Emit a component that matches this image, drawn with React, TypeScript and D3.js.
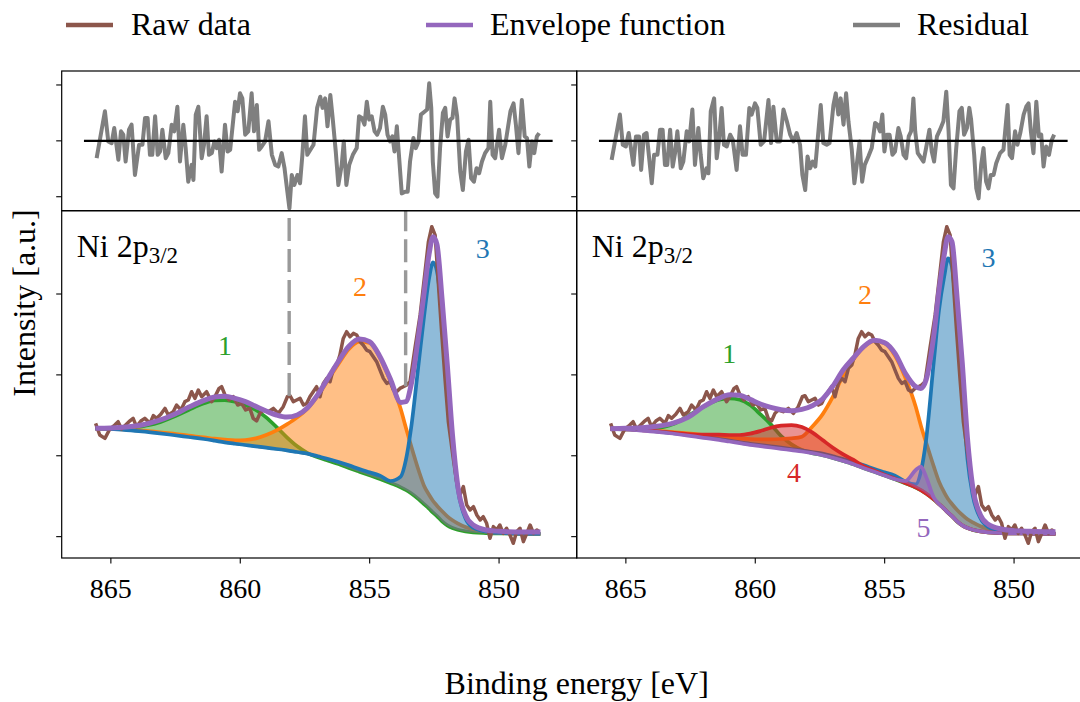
import React from "react";
import * as d3 from "d3";

// ---------- data (binding energy in eV, intensity in a.u.) ----------
const energies = [865.6, 865.0, 864.4, 863.8, 863.2, 862.6, 862.0, 861.4, 861.0, 860.6, 860.2, 859.8, 859.4, 859.0, 858.6, 858.2, 857.8, 857.4, 857.0, 856.6, 856.2, 855.8, 855.4, 855.0, 854.6, 854.2, 853.8, 853.6, 853.4, 853.1, 852.9, 852.7, 852.55, 852.4, 852.2, 852.0, 851.8, 851.6, 851.3, 851.0, 850.5, 850.0, 849.4, 848.8, 848.4];

const background = [133.1, 132.3, 131.0, 129.4, 127.3, 124.8, 122.0, 119.5, 117.4, 115.4, 113.3, 111.7, 110.0, 108.4, 106.7, 105.1, 103.0, 100.5, 97.2, 93.5, 89.4, 84.5, 79.9, 75.4, 70.9, 65.9, 60.6, 57.3, 53.1, 45.7, 40.0, 34.2, 29.3, 25.1, 18.5, 13.6, 10.3, 8.2, 6.2, 4.9, 4.1, 3.7, 3.7, 3.3, 3.3];

// left fit (3 components)
const leftPeak1 = [133.5, 133.1, 134.3, 136.4, 140.5, 147.9, 156.6, 164.8, 168.5, 168.9, 166.9, 162.7, 156.6, 147.5, 135.5, 122.8, 111.7, 103.4, 98.1, 93.9, 89.8, 84.9, 80.3, 75.8, 71.3, 66.3, 61.0, 57.7, 53.6, 46.0, 40.3, 34.5, 29.6, 25.4, 18.8, 13.9, 10.6, 8.5, 6.5, 5.2, 4.4, 4.0, 4.0, 3.6, 3.6];
const leftPeak2 = [133.5, 133.1, 132.3, 131.0, 129.4, 127.3, 124.8, 122.8, 121.1, 119.9, 119.1, 119.5, 121.5, 125.7, 131.4, 138.8, 147.5, 158.6, 174.3, 194.1, 213.8, 232.0, 241.0, 239.4, 221.2, 192.4, 157.8, 134.7, 112.5, 81.2, 63.0, 51.5, 44.1, 38.3, 31.3, 25.1, 20.2, 16.5, 11.9, 9.1, 6.2, 4.5, 3.7, 3.3, 3.3];
const leftPeak3 = [133.9, 133.1, 131.8, 130.2, 128.1, 125.7, 123.2, 120.7, 118.7, 116.6, 114.9, 113.3, 111.7, 110.0, 108.4, 106.7, 104.6, 102.6, 99.3, 96.0, 92.3, 88.2, 83.6, 79.5, 75.4, 68.8, 74.2, 94.8, 133.9, 216.3, 271.9, 320.1, 339.1, 328.4, 271.9, 197.8, 115.4, 59.7, 22.7, 11.1, 6.2, 4.5, 3.7, 3.3, 3.3];
const leftEnvelope = [133.9, 134.3, 135.5, 138.0, 143.0, 150.4, 159.9, 168.5, 172.6, 173.5, 171.0, 166.9, 161.1, 155.3, 150.4, 147.9, 150.4, 159.4, 175.9, 196.5, 217.1, 235.3, 244.3, 241.0, 222.5, 194.9, 166.0, 166.9, 187.5, 251.3, 300.8, 350.2, 370.8, 361.3, 292.5, 212.2, 125.7, 63.9, 26.8, 14.4, 8.2, 6.6, 5.8, 5.8, 5.8];

// right fit (5 components)
const rightPeak1 = [133.1, 132.7, 132.3, 133.9, 138.8, 149.1, 160.7, 169.3, 171.0, 169.3, 162.7, 151.2, 138.8, 124.4, 114.1, 107.1, 103.3, 100.7, 97.4, 93.7, 89.6, 84.7, 80.1, 75.6, 71.1, 66.1, 60.8, 57.5, 53.3, 45.9, 40.2, 34.4, 29.5, 25.3, 18.7, 13.8, 10.5, 8.4, 6.4, 5.1, 4.3, 3.9, 3.9, 3.5, 3.5];
const rightPeak2 = [133.5, 133.1, 132.3, 131.0, 129.4, 127.7, 125.7, 124.0, 122.8, 121.5, 120.7, 120.3, 120.3, 120.7, 121.5, 123.6, 136.0, 151.2, 173.0, 199.8, 219.6, 234.8, 241.8, 239.0, 223.7, 196.5, 160.7, 137.2, 116.6, 86.5, 68.0, 54.8, 46.6, 40.4, 33.0, 26.8, 21.4, 17.7, 12.8, 9.5, 6.6, 4.9, 4.1, 3.7, 3.7];
const rightPeak3 = [133.9, 133.1, 131.8, 130.2, 128.1, 125.7, 123.2, 120.7, 118.7, 116.6, 114.9, 113.3, 111.7, 110.0, 108.4, 106.7, 104.6, 102.6, 99.3, 96.0, 92.3, 88.2, 83.6, 79.5, 75.4, 68.0, 64.7, 80.3, 119.5, 217.1, 280.2, 321.4, 344.0, 333.7, 261.6, 179.2, 96.0, 51.5, 22.7, 11.9, 6.6, 4.9, 4.1, 3.7, 3.7];
const rightPeak4 = [133.5, 132.7, 131.8, 130.2, 128.5, 126.9, 126.1, 126.1, 125.7, 125.7, 127.3, 130.6, 134.7, 137.2, 138.0, 135.5, 129.0, 119.5, 110.0, 101.8, 94.8, 86.9, 81.6, 76.2, 71.7, 66.3, 61.0, 57.6, 53.4, 46.0, 40.3, 34.5, 29.6, 25.4, 18.8, 13.9, 10.6, 8.5, 6.5, 5.2, 4.4, 4.0, 4.0, 3.6, 3.6];
const rightPeak5 = [133.3, 132.5, 131.2, 129.6, 127.5, 125.0, 122.2, 119.7, 117.6, 115.6, 113.5, 111.9, 110.2, 108.6, 106.9, 105.3, 103.2, 100.7, 97.4, 93.7, 89.6, 84.7, 80.1, 75.6, 71.1, 68.8, 82.4, 86.5, 74.2, 48.2, 40.3, 34.5, 29.6, 25.4, 18.8, 13.9, 10.6, 8.5, 6.5, 5.2, 4.4, 4.0, 4.0, 3.6, 3.6];
const rightEnvelope = [133.5, 133.9, 134.7, 136.4, 140.1, 147.5, 160.7, 171.0, 175.5, 174.7, 169.7, 164.0, 159.9, 157.0, 155.7, 157.4, 161.9, 170.2, 186.2, 206.4, 221.2, 235.3, 242.7, 239.8, 226.6, 201.9, 185.4, 183.3, 193.6, 249.3, 304.9, 348.1, 370.8, 364.6, 294.6, 214.2, 121.5, 61.8, 26.8, 15.2, 9.5, 7.4, 6.6, 6.2, 6.2];

// raw spectrum [energy, intensity]
const rawData: [number, number][] = [
  [865.59, 140.1], [865.43, 125.7], [865.23, 121.5], [865.04, 133.1], [864.85, 138.0], [864.72, 142.1], [864.59, 133.1], [864.43, 138.0], [864.30, 142.1], [864.14, 146.3],
  [864.01, 136.0], [863.84, 143.0], [863.69, 146.3], [863.49, 140.1], [863.36, 149.6], [863.23, 146.3], [863.07, 151.2], [862.91, 158.6], [862.78, 150.4], [862.59, 154.5],
  [862.46, 162.7], [862.29, 156.6], [862.14, 166.9], [862.01, 168.9], [861.88, 179.2], [861.75, 171.0], [861.62, 181.3], [861.49, 173.0], [861.30, 179.2], [861.11, 166.9],
  [860.98, 173.0], [860.82, 183.3], [860.72, 185.4], [860.59, 175.1], [860.44, 168.9], [860.27, 173.0], [860.10, 162.7], [859.95, 164.8], [859.79, 156.6], [859.63, 158.6],
  [859.50, 146.3], [859.37, 143.0], [859.24, 152.4], [859.11, 156.6], [858.92, 154.5], [858.72, 158.6], [858.53, 152.4], [858.34, 160.7], [858.18, 173.0], [858.08, 174.3],
  [857.95, 166.9], [857.82, 168.9], [857.69, 171.0], [857.56, 162.7], [857.43, 164.8], [857.31, 173.0], [857.18, 179.2], [857.05, 185.4], [856.92, 173.0], [856.79, 189.5],
  [856.66, 195.7], [856.53, 191.6], [856.40, 208.1], [856.27, 212.2], [856.15, 224.5], [856.02, 245.1], [855.89, 253.4], [855.76, 247.2], [855.63, 251.3], [855.50, 249.3],
  [855.37, 241.0], [855.25, 236.9], [855.12, 230.7], [854.99, 228.7], [854.86, 222.5], [854.73, 216.3], [854.60, 206.0], [854.47, 195.7], [854.34, 189.5], [854.21, 191.6],
  [854.08, 181.3], [853.96, 179.2], [853.83, 183.3], [853.70, 185.4], [853.57, 187.5], [853.44, 191.6], [853.25, 232.8], [853.05, 274.0], [852.86, 327.5], [852.73, 364.6],
  [852.60, 383.2], [852.47, 372.9], [852.35, 315.2], [852.22, 253.4], [852.09, 195.7], [851.96, 142.1], [851.77, 96.8], [851.64, 68.0], [851.51, 51.5], [851.38, 61.8],
  [851.25, 39.1], [851.12, 33.0], [850.99, 37.1], [850.86, 26.8], [850.73, 20.6], [850.61, 24.7], [850.48, 16.5], [850.35, -2.1], [850.22, 12.4], [850.09, 8.2],
  [849.97, 14.4], [849.84, 4.1], [849.71, 10.3], [849.58, 2.1], [849.45, -8.2], [849.32, 6.2], [849.19, 10.3], [849.06, -6.2], [848.93, 4.1], [848.80, 14.4],
  [848.67, 4.1], [848.54, 8.2], [848.45, 6.2],
];

// residuals [energy, residual]
const leftResidual: [number, number][] = [
  [865.55, -31], [865.23, 53], [865.10, -1], [864.97, -4], [864.87, 23], [864.71, -34], [864.61, 17], [864.52, 11], [864.43, -37], [864.30, 20],
  [864.20, 29], [864.07, -61], [863.91, -7], [863.78, -7], [863.68, 41], [863.58, 41], [863.49, -25], [863.40, -25], [863.29, 44], [863.19, -25],
  [863.10, -19], [863.01, 20], [862.88, -31], [862.78, -22], [862.65, 29], [862.55, 17], [862.43, 61], [862.33, -37], [862.20, 29], [862.11, -13],
  [862.01, -73], [861.88, -43], [861.81, -70], [861.72, 47], [861.62, 61], [861.49, -31], [861.40, -7], [861.30, 44], [861.21, -25], [861.10, -22],
  [861.00, -1], [860.91, -13], [860.82, 2], [860.72, -55], [860.59, 29], [860.49, -19], [860.39, -16], [860.20, 70], [860.10, 53], [860.01, 85],
  [859.92, 76], [859.81, 11], [859.69, 17], [859.56, 85], [859.47, 17], [859.36, 64], [859.27, -16], [859.17, -10], [859.04, -1], [858.91, 35],
  [858.78, -25], [858.65, -43], [858.53, -46], [858.40, -22], [858.29, -49], [858.18, -91], [858.10, -121], [858.01, -61], [857.91, -79], [857.79, -61],
  [857.69, -76], [857.60, -25], [857.50, 44], [857.41, -25], [857.29, -16], [857.17, -7], [857.03, 59], [856.91, 79], [856.82, 59], [856.72, 76],
  [856.63, 26], [856.52, 82], [856.43, 41], [856.31, -19], [856.21, -79], [856.08, -43], [856.00, -1], [855.90, -79], [855.79, -43], [855.65, -25],
  [855.50, -13], [855.41, 44], [855.30, 41], [855.20, 29], [855.11, 70], [855.02, 38], [854.92, 44], [854.81, 17], [854.71, 11], [854.60, 23],
  [854.49, 61], [854.40, 47], [854.31, 11], [854.21, -1], [854.12, 8], [854.04, -19], [853.95, 26], [853.86, -31], [853.76, -94], [853.63, -91],
  [853.53, -91], [853.44, -37], [853.31, 5], [853.22, -13], [853.11, -1], [853.02, 47], [852.86, 53], [852.78, 56], [852.70, 103], [852.62, 59],
  [852.56, -37], [852.47, -94], [852.38, -100], [852.28, -13], [852.17, 50], [852.08, 59], [851.99, 8], [851.89, 38], [851.80, 41], [851.72, 76],
  [851.62, 44], [851.50, -55], [851.40, -88], [851.28, -19], [851.18, 2], [851.08, -67], [850.97, -73], [850.87, -49], [850.77, -58], [850.66, -37],
  [850.54, -22], [850.41, -13], [850.34, 70], [850.25, -25], [850.15, -31], [850.00, 20], [849.89, -31], [849.76, -7], [849.66, 23], [849.56, 53],
  [849.44, 67], [849.35, 29], [849.25, -22], [849.12, 73], [849.01, 8], [848.92, 5], [848.83, -46], [848.73, -1], [848.64, -22], [848.54, 8],
  [848.45, 14],
];
const rightResidual: [number, number][] = [
  [865.55, -34], [865.23, 47], [865.12, -7], [865.00, -10], [864.89, 14], [864.71, -43], [864.61, 8], [864.49, 8], [864.41, -52], [864.30, 11],
  [864.20, 14], [864.00, -76], [863.91, -25], [863.78, -25], [863.68, 20], [863.58, 20], [863.49, -43], [863.40, -43], [863.29, 20], [863.19, -46],
  [863.10, -22], [863.01, 17], [862.88, -49], [862.78, -37], [862.65, 17], [862.55, -1], [862.43, 56], [862.33, -43], [862.20, 23], [862.11, -25],
  [862.01, -67], [861.88, -49], [861.81, -58], [861.72, 53], [861.59, 76], [861.49, -31], [861.40, 2], [861.30, 59], [861.21, -7], [861.10, -10],
  [860.97, 11], [860.87, 2], [860.72, -52], [860.59, 26], [860.49, -25], [860.36, -25], [860.23, 59], [860.14, 47], [860.01, 67], [859.92, 59],
  [859.79, -7], [859.66, -1], [859.49, 73], [859.39, -4], [859.30, 61], [859.17, -1], [859.04, -1], [858.91, 56], [858.78, 35], [858.65, 11],
  [858.53, -1], [858.40, 14], [858.27, -7], [858.18, -61], [858.07, -88], [857.98, -28], [857.88, -49], [857.78, -37], [857.68, -46], [857.56, 17],
  [857.47, 64], [857.37, -4], [857.24, -7], [857.13, -4], [856.98, 64], [856.89, 85], [856.79, 47], [856.70, 76], [856.59, 29], [856.49, 85],
  [856.40, 35], [856.27, -16], [856.17, -76], [856.08, -43], [855.97, -1], [855.87, -73], [855.77, -43], [855.63, -28], [855.50, -13], [855.37, 32],
  [855.28, 29], [855.18, 17], [855.09, 47], [855.01, -19], [854.92, 11], [854.81, 11], [854.70, -25], [854.60, -19], [854.47, 23], [854.38, 8],
  [854.27, -25], [854.17, -31], [854.07, 8], [853.98, 17], [853.89, 76], [853.82, 17], [853.72, -22], [853.63, -28], [853.50, -37], [853.40, -13],
  [853.27, 20], [853.18, -19], [853.09, -37], [852.98, 8], [852.86, 20], [852.73, 35], [852.62, 88], [852.53, 17], [852.44, -79], [852.34, -85],
  [852.24, -16], [852.11, 53], [852.02, 59], [851.93, 11], [851.82, 23], [851.73, 59], [851.66, 38], [851.54, -25], [851.46, -85], [851.37, -103],
  [851.27, -43], [851.18, -13], [851.08, -73], [850.99, -85], [850.90, -61], [850.79, -61], [850.69, -40], [850.54, -22], [850.41, -16], [850.25, 64],
  [850.17, -25], [850.08, -31], [849.96, 17], [849.87, -7], [849.76, 14], [849.63, 47], [849.53, 61], [849.44, 67], [849.35, 17], [849.25, -22],
  [849.14, 70], [849.04, 8], [848.95, 11], [848.86, -46], [848.76, -10], [848.65, -25], [848.54, 2], [848.45, 11],
];
const residualZeroSpan = [866.04, 847.93];

// component labels [text, energy, intensity]
const leftLabels: [string, number, number][] = [["1", 860.59, 224.6], ["2", 855.37, 297.9], ["3", 850.63, 344.1]];
const rightLabels: [string, number, number][] = [["1", 861.01, 214.3], ["2", 855.76, 287.3], ["3", 850.99, 333.8], ["4", 858.5, 67.9], ["5", 853.5, 0.0]];

// vertical markers in left panel [energy, start intensity]
const leftMarkers: [number, number][] = [[858.11, 174], [853.61, 186]];

const xTicks = [865, 860, 855, 850];
const yTicksMain = [0, 100, 200, 300];
const yTicksResidual = [-100, 0, 100];

const legendItems = ["Raw data", "Envelope function", "Residual"];

// ---------- layout ----------
const W = 1080;
const H = 702;
const PANEL_W = 515;
const X0_LEFT = 61.7;
const RES_TOP = 71;
const RES_BOTTOM = 210.7;
const MAIN_BOTTOM = 558;
const X_DOMAIN: [number, number] = [866.9, 847.0];
const MAIN_DOMAIN: [number, number] = [-26.4, 403];
const RES_DOMAIN: [number, number] = [-125, 125];
const FONT = "'Liberation Serif', 'Times New Roman', serif";

const C = {
  blue: "#1f77b4",
  orange: "#ff7f0e",
  green: "#2ca02c",
  red: "#d62728",
  purple: "#9467bd",
  brown: "#8c564b",
  gray: "#7f7f7f",
};

type Comp = { values: number[]; color: string };

function Panel(props: {
  x0: number;
  id: string;
  comps: Comp[];
  envelope: number[];
  residual: [number, number][];
  labels: [string, number, number][];
  markers: [number, number][];
}) {
  const { x0, id, comps, envelope, residual, labels, markers } = props;
  const x = d3.scaleLinear().domain(X_DOMAIN).range([x0, x0 + PANEL_W]);
  const y = d3.scaleLinear().domain(MAIN_DOMAIN).range([MAIN_BOTTOM, RES_BOTTOM]);
  const yr = d3.scaleLinear().domain(RES_DOMAIN).range([RES_BOTTOM, RES_TOP]);
  const idx = d3.range(energies.length);

  const lineFor = (vals: number[]) =>
    d3.line<number>().x((i) => x(energies[i])).y((i) => y(vals[i])).curve(d3.curveMonotoneX)(idx) || "";
  const areaFor = (vals: number[]) =>
    d3
      .area<number>()
      .x((i) => x(energies[i]))
      .y0((i) => y(background[i]))
      .y1((i) => y(vals[i]))
      .curve(d3.curveMonotoneX)(idx) || "";
  const rawLine = d3.line<[number, number]>().x((d) => x(d[0])).y((d) => y(d[1]))(rawData) || "";
  const resLine = d3.line<[number, number]>().x((d) => x(d[0])).y((d) => yr(d[1]))(residual) || "";

  const mainClip = `${id}-main`;
  const resClip = `${id}-res`;

  return (
    <g>
      <defs>
        <clipPath id={mainClip}>
          <rect x={x0} y={RES_BOTTOM} width={PANEL_W} height={MAIN_BOTTOM - RES_BOTTOM} />
        </clipPath>
        <clipPath id={resClip}>
          <rect x={x0} y={RES_TOP} width={PANEL_W} height={RES_BOTTOM - RES_TOP} />
        </clipPath>
      </defs>

      {/* residual panel */}
      <g clipPath={`url(#${resClip})`}>
        <path d={resLine} fill="none" stroke={C.gray} strokeWidth={4} strokeLinejoin="round" />
        <line x1={x(residualZeroSpan[0])} x2={x(residualZeroSpan[1])} y1={yr(0)} y2={yr(0)} stroke="#000" strokeWidth={2.2} />
      </g>

      {/* main panel */}
      <g clipPath={`url(#${mainClip})`}>
        {comps.map((c, k) => (
          <g key={k}>
            <path d={areaFor(c.values)} fill={c.color} fillOpacity={0.5} stroke="none" />
            <path d={lineFor(c.values)} fill="none" stroke={c.color} strokeWidth={3.7} strokeLinejoin="round" />
          </g>
        ))}
        <path d={rawLine} fill="none" stroke={C.brown} strokeWidth={3.5} strokeLinejoin="round" />
        <path d={lineFor(envelope)} fill="none" stroke={C.purple} strokeWidth={5} strokeLinejoin="round" />
        {markers.map((m, k) => (
          <line
            key={k}
            x1={x(m[0])}
            x2={x(m[0])}
            y1={y(m[1])}
            y2={RES_BOTTOM}
            stroke="#999999"
            strokeWidth={3.4}
            strokeDasharray="23 8"
          />
        ))}
      </g>

      {/* labels */}
      <text x={x0 + 15} y={256.7} fontFamily={FONT} fontSize={32} fill="#000">
        Ni 2p
        <tspan fontSize={23} dy={6}>
          3/2
        </tspan>
      </text>
      {labels.map((l, k) => (
        <text
          key={k}
          x={x(l[1])}
          y={y(l[2])}
          textAnchor="middle"
          fontFamily={FONT}
          fontSize={28}
          fill={comps[Number(l[0]) - 1].color}
        >
          {l[0]}
        </text>
      ))}

      {/* spines */}
      <rect x={x0} y={RES_TOP} width={PANEL_W} height={RES_BOTTOM - RES_TOP} fill="none" stroke="#000" strokeWidth={1.2} />
      <rect x={x0} y={RES_BOTTOM} width={PANEL_W} height={MAIN_BOTTOM - RES_BOTTOM} fill="none" stroke="#000" strokeWidth={1.2} />

      {/* ticks */}
      {yTicksResidual.map((t) => (
        <line key={`r${t}`} x1={x0 - 5.5} x2={x0} y1={yr(t)} y2={yr(t)} stroke="#000" strokeWidth={1.1} />
      ))}
      {yTicksMain.map((t) => (
        <line key={`m${t}`} x1={x0 - 5.5} x2={x0} y1={y(t)} y2={y(t)} stroke="#000" strokeWidth={1.1} />
      ))}
      {xTicks.map((t) => (
        <g key={`x${t}`}>
          <line x1={x(t)} x2={x(t)} y1={MAIN_BOTTOM} y2={MAIN_BOTTOM + 5.5} stroke="#000" strokeWidth={1.1} />
          <text x={x(t)} y={598} textAnchor="middle" fontFamily={FONT} fontSize={28} fill="#000">
            {t}
          </text>
        </g>
      ))}
    </g>
  );
}

export default function App() {
  const legendColors = [C.brown, C.purple, C.gray];
  const legendLineX = [66, 426, 853];
  const legendTextX = [131, 490, 917];
  return (
    <svg
      width={W}
      height={H}
      viewBox={`0 0 ${W} ${H}`}
      style={{ position: "absolute", left: 0, top: 0, background: "#fff" }}
    >
      <rect x={0} y={0} width={W} height={H} fill="#fff" />
      <Panel
        x0={X0_LEFT}
        id="left"
        comps={[
          { values: leftPeak1, color: C.green },
          { values: leftPeak2, color: C.orange },
          { values: leftPeak3, color: C.blue },
        ]}
        envelope={leftEnvelope}
        residual={leftResidual}
        labels={leftLabels}
        markers={leftMarkers}
      />
      <Panel
        x0={X0_LEFT + PANEL_W}
        id="right"
        comps={[
          { values: rightPeak1, color: C.green },
          { values: rightPeak2, color: C.orange },
          { values: rightPeak3, color: C.blue },
          { values: rightPeak4, color: C.red },
          { values: rightPeak5, color: C.purple },
        ]}
        envelope={rightEnvelope}
        residual={rightResidual}
        labels={rightLabels}
        markers={[]}
      />

      {/* legend */}
      {legendItems.map((name, k) => (
        <g key={name}>
          <line x1={legendLineX[k]} x2={legendLineX[k] + 47} y1={25} y2={25} stroke={legendColors[k]} strokeWidth={4.5} />
          <text x={legendTextX[k]} y={35} fontFamily={FONT} fontSize={32} fill="#000">
            {name}
          </text>
        </g>
      ))}

      {/* axis labels */}
      <text x={576.7} y={694} textAnchor="middle" fontFamily={FONT} fontSize={32} fill="#000">
        Binding energy [eV]
      </text>
      <text
        transform="translate(35,303) rotate(-90)"
        textAnchor="middle"
        fontFamily={FONT}
        fontSize={32}
        fill="#000"
      >
        Intensity [a.u.]
      </text>
    </svg>
  );
}
